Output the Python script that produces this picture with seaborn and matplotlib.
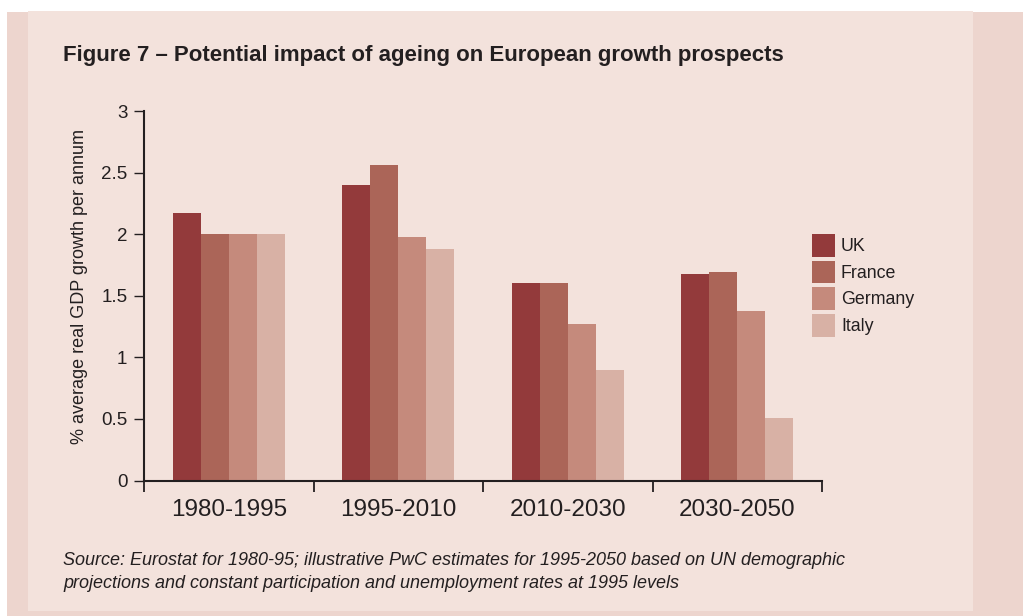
import matplotlib
matplotlib.use("Agg")
import matplotlib.pyplot as plt
from matplotlib.patches import Rectangle, Patch
from matplotlib.ticker import FixedLocator
import seaborn as sns
import pandas as pd

# Average real GDP growth (% per annum) by period and country
periods = ["1980-1995", "1995-2010", "2010-2030", "2030-2050"]
countries = ["UK", "France", "Germany", "Italy"]
uk = [2.17, 2.40, 1.60, 1.68]
france = [2.00, 2.56, 1.60, 1.69]
germany = [2.00, 1.98, 1.27, 1.38]
italy = [2.00, 1.88, 0.90, 0.51]
y_ticks = [0, 0.5, 1, 1.5, 2, 2.5, 3]
y_tick_labels = ["0", "0.5", "1", "1.5", "2", "2.5", "3"]

colors = ["#933A3B", "#AB6558", "#C58A7C", "#D8B1A5"]
panel = "#F3E2DC"
frame = "#EDD5CE"
ink = "#231F20"

rows = []
for name, vals in zip(countries, [uk, france, germany, italy]):
    for p, v in zip(periods, vals):
        rows.append({"period": p, "country": name, "growth": v})
df = pd.DataFrame(rows)

sns.set_theme(style="white")
plt.rcParams["font.family"] = ["Liberation Sans", "DejaVu Sans"]

W, H = 1023, 616
fig = plt.figure(figsize=(W / 100, H / 100), dpi=100, facecolor="white")

# page background: outer frame and lighter panel
fig.patches.append(Rectangle((7 / W, 0), 1 - 7 / W, 1 - 12 / H,
                             transform=fig.transFigure, facecolor=frame,
                             edgecolor="none", zorder=-3))
fig.patches.append(Rectangle((28 / W, 1 - 611 / H), (973 - 28) / W, (611 - 11) / H,
                             transform=fig.transFigure, facecolor=panel,
                             edgecolor="none", zorder=-2))

ax = fig.add_axes([144 / W, 1 - 480.5 / H, (822 - 144) / W, (480.5 - 111) / H])
ax.set_facecolor(panel)

sns.barplot(data=df, x="period", y="growth", hue="country", order=periods,
            hue_order=countries, palette=colors, saturation=1, width=0.66,
            linewidth=0, errorbar=None, legend=False, ax=ax)

ax.set_xlim(-0.5, 3.5)
ax.set_ylim(0, 3)
ax.set_xlabel("")
ax.set_ylabel("")

for s in ["top", "right"]:
    ax.spines[s].set_visible(False)
for s in ["left", "bottom"]:
    ax.spines[s].set_color(ink)
    ax.spines[s].set_linewidth(1.5)

ax.set_yticks(y_ticks)
ax.set_yticklabels(y_tick_labels)
ax.tick_params(axis="y", direction="out", length=7, width=1.0, color=ink,
               pad=5, labelsize=13.5, labelcolor=ink, left=True)
ax.tick_params(axis="x", which="major", length=0, pad=13, labelsize=17.5,
               labelcolor=ink, bottom=True)
ax.xaxis.set_minor_locator(FixedLocator([-0.5, 0.5, 1.5, 2.5, 3.5]))
ax.tick_params(axis="x", which="minor", direction="out", length=8, width=1.3,
               color=ink, bottom=True)

handles = [Patch(facecolor=c, edgecolor="none") for c in colors]
ax.legend(handles, countries, loc="upper left",
          bbox_to_anchor=(812 / W, 1 - 234 / H), bbox_transform=fig.transFigure,
          frameon=False, fontsize=12.8, handlelength=1.29, handleheight=1.61,
          labelspacing=0.2, handletextpad=0.34, borderpad=0, borderaxespad=0,
          labelcolor=ink)

fig.text(80 / W, 1 - 286 / H, "% average real GDP growth per annum",
         rotation=90, ha="center", va="center", fontsize=13, color=ink)

fig.text(63 / W, 1 - 55 / H,
         "Figure 7 \u2013 Potential impact of ageing on European growth prospects",
         ha="left", va="center", fontsize=16, fontweight="bold", color=ink)

fig.text(63 / W, 1 - 572 / H,
         "Source: Eurostat for 1980-95; illustrative PwC estimates for 1995-2050 based on UN demographic\n"
         "projections and constant participation and unemployment rates at 1995 levels",
         ha="left", va="center", fontsize=13, style="italic", color=ink,
         linespacing=1.39)

fig.savefig("out.png", dpi=100, facecolor="white")
